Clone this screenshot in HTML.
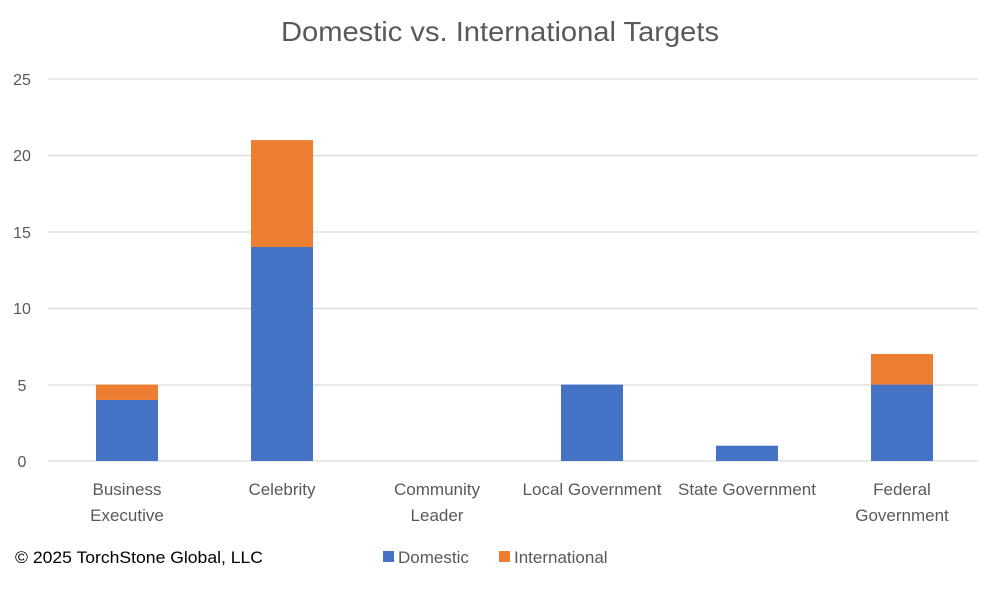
<!DOCTYPE html>
<html><head><style>body{margin:0;background:#fff}</style></head><body>
<svg width="1000" height="586" xmlns="http://www.w3.org/2000/svg" font-family="Liberation Sans, sans-serif">
<text x="281" y="41" font-size="28" fill="#595959" textLength="438" lengthAdjust="spacingAndGlyphs">Domestic vs. International Targets</text>
<g stroke="#d9d9d9" stroke-width="1.3">
<line x1="48" x2="978" y1="79" y2="79"/><line x1="48" x2="978" y1="155.5" y2="155.5"/>
<line x1="48" x2="978" y1="232" y2="232"/><line x1="48" x2="978" y1="308.5" y2="308.5"/>
<line x1="48" x2="978" y1="385" y2="385"/><line x1="48" x2="978" y1="461" y2="461"/>
</g>
<g font-size="16" fill="#595959" text-anchor="middle">
<text x="22" y="85">25</text><text x="22" y="161">20</text><text x="22" y="238">15</text>
<text x="22" y="314">10</text><text x="22" y="391">5</text><text x="22" y="467">0</text>
</g>
<g fill="#4472c4">
<rect x="96" y="399.9" width="62" height="61.1"/>
<rect x="251" y="247" width="62" height="214"/>
<rect x="561" y="384.6" width="62" height="76.4"/>
<rect x="716" y="445.7" width="62" height="15.3"/>
<rect x="871" y="384.6" width="62" height="76.4"/>
</g>
<g fill="#ed7d31">
<rect x="96" y="384.6" width="62" height="15.3"/>
<rect x="251" y="140.1" width="62" height="106.9"/>
<rect x="871" y="354" width="62" height="30.6"/>
</g>
<g font-size="17" fill="#595959" text-anchor="middle">
<text x="127" y="495">Business</text><text x="127" y="521">Executive</text>
<text x="282" y="495">Celebrity</text>
<text x="437" y="495">Community</text><text x="437" y="521">Leader</text>
<text x="592" y="495">Local Government</text>
<text x="747" y="495">State Government</text>
<text x="902" y="495">Federal</text><text x="902" y="521">Government</text>
</g>
<text x="15" y="563" font-size="17" fill="#000" textLength="248" lengthAdjust="spacingAndGlyphs">© 2025 TorchStone Global, LLC</text>
<rect x="383" y="551" width="11" height="11" fill="#4472c4"/>
<text x="398" y="563" font-size="17" fill="#595959">Domestic</text>
<rect x="499" y="551" width="11" height="11" fill="#ed7d31"/>
<text x="514" y="563" font-size="17" fill="#595959">International</text>
</svg>
</body></html>
